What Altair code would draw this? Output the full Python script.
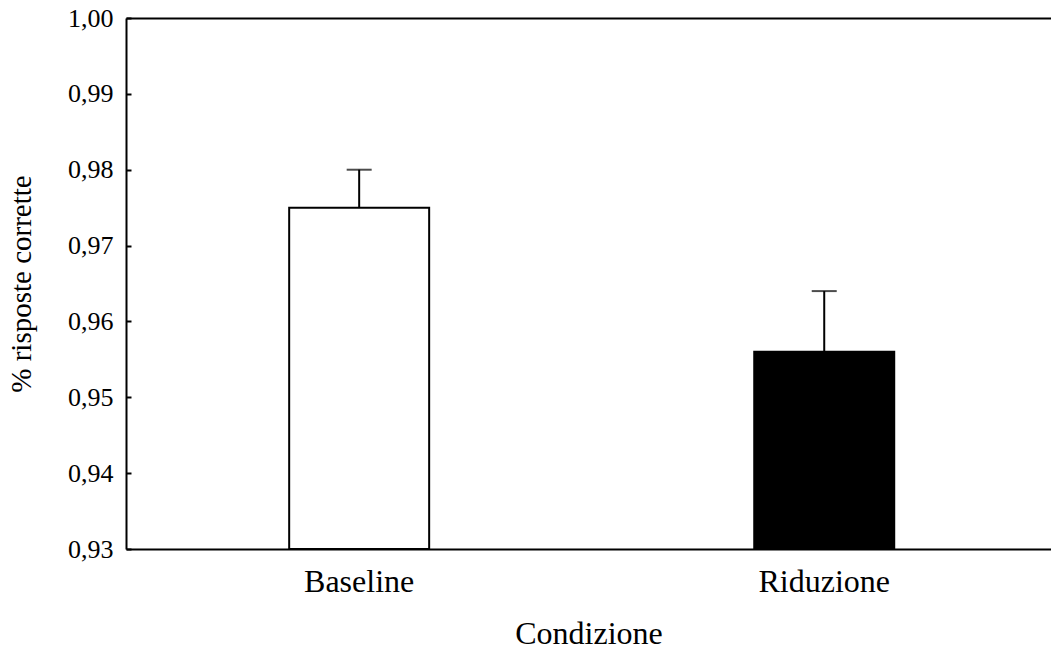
import altair as alt
import pandas as pd

categories = ["Baseline", "Riduzione"]
means = [0.975, 0.956]
upper = [0.980, 0.964]
fills = ["white", "black"]
y_ticks = [0.93, 0.94, 0.95, 0.96, 0.97, 0.98, 0.99, 1.00]
y_domain = [0.93, 1.00]

df = pd.DataFrame({
    "cond": categories,
    "mean": means,
    "upper": upper,
    "fill": fills,
    "base": [y_domain[0]] * len(categories),
})

FONT = "Liberation Serif"

xscale = alt.Scale(paddingInner=0.699, paddingOuter=0.344, align=0.51)
yscale = alt.Scale(domain=y_domain, zero=False, nice=False)

bars = alt.Chart(df).mark_bar(stroke="black", strokeWidth=2).encode(
    x=alt.X("cond:N", scale=xscale, sort=categories,
            axis=alt.Axis(orient="bottom", title="Condizione", labelAngle=0,
                          labelFont=FONT, titleFont=FONT,
                          labelFontSize=32, titleFontSize=32,
                          tickSize={"expr": "-5"}, labelPadding=22, titlePadding=21)),
    y=alt.Y("mean:Q", scale=yscale,
            axis=alt.Axis(values=y_ticks, title="% risposte corrette",
                          labelExpr="replace(format(datum.value, '.2f'), '.', ',')",
                          labelFont=FONT, titleFont=FONT,
                          labelFontSize=26, titleFontSize=29,
                          tickSize={"expr": "-5"}, labelPadding=18, titlePadding=31)),
    y2="base:Q",
    fill=alt.Fill("fill:N", scale=None),
)

err_rule = alt.Chart(df).mark_rule(color="black", strokeWidth=2).encode(
    x=alt.X("cond:N", scale=xscale, sort=categories,
            axis=alt.Axis(orient="top", title=None, labels=False, ticks=False)),
    y=alt.Y("mean:Q", scale=yscale),
    y2="upper:Q",
)

err_cap = alt.Chart(df).mark_tick(color="black", thickness=2, size=25).encode(
    x=alt.X("cond:N", scale=xscale, sort=categories, axis=None),
    y=alt.Y("upper:Q", scale=yscale),
)

chart = alt.layer(bars, err_rule, err_cap).properties(
    width=925, height=531,
    autosize=alt.AutoSizeParams(type="none"),
    padding={"left": 126, "top": 18, "right": 0, "bottom": 100},
    background="white",
).configure(font=FONT).configure_view(stroke=None).configure_axis(
    labelFont=FONT, titleFont=FONT, labelColor="black", titleColor="black",
    titleFontWeight="normal", domainColor="black", domainWidth=2,
    tickColor="black", tickWidth=2, grid=False,
)

chart.save("out.html", embed_options={"renderer": "svg", "actions": False})
